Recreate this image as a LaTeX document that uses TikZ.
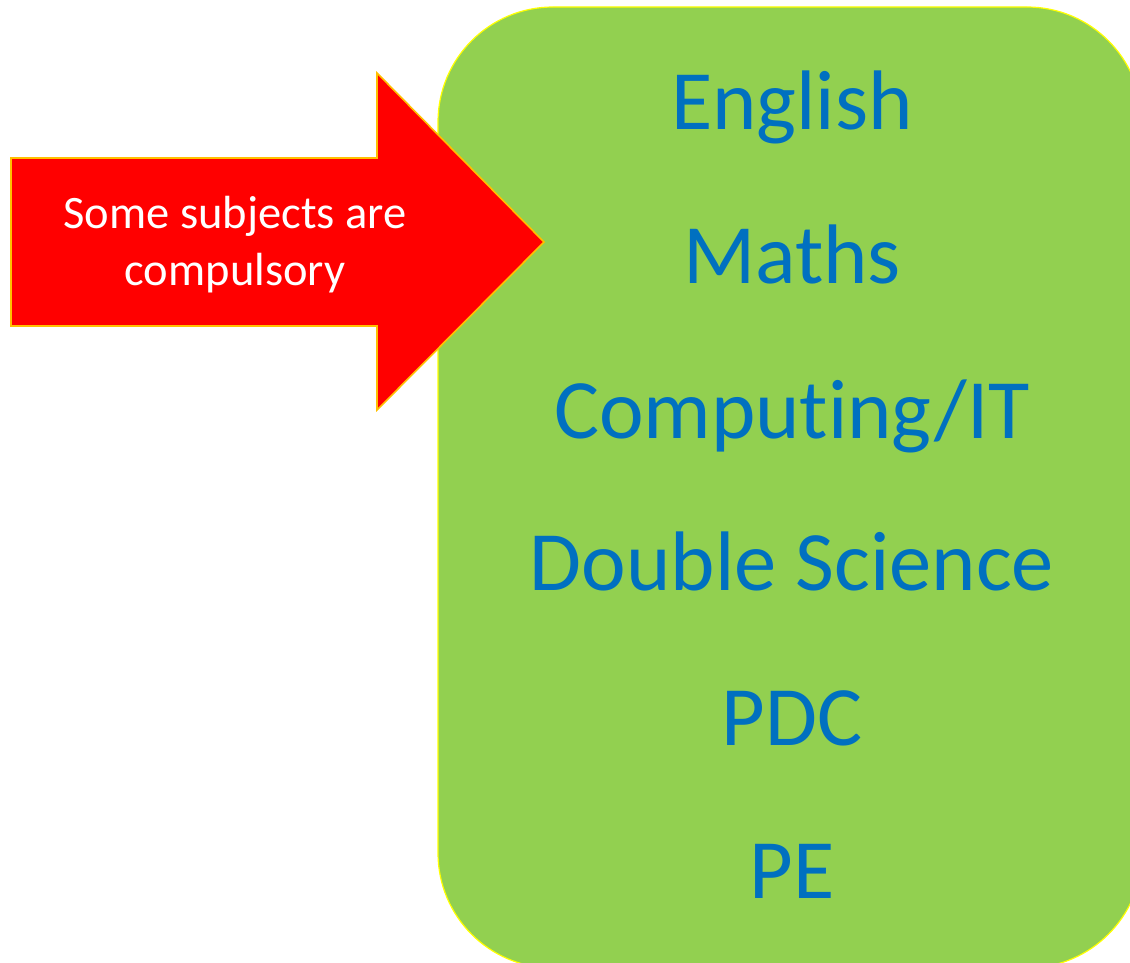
\documentclass[tikz,border=0pt]{standalone}
\usepackage{fontspec}
\setmainfont{Carlito}[Ligatures=NoCommon]
\definecolor{boxgreen}{HTML}{92D050}
\definecolor{boxedge}{HTML}{FFFF00}
\definecolor{subjblue}{HTML}{0070C0}
\definecolor{arrowred}{HTML}{FF0000}
\definecolor{arrowedge}{HTML}{FFC000}
\tikzset{
  subject/.style={text=subjblue, font=\fontsize{84.5}{100}\selectfont, anchor=base, inner sep=0pt},
  greenbox/.style={fill=boxgreen, draw=boxedge, line width=1.2pt, rounded corners=115pt},
  redarrow/.style={fill=arrowred, draw=arrowedge, line width=1.6pt, line join=miter},
  arrowtext/.style={text=white, font=\fontsize{46.5}{57}\selectfont, align=center, inner sep=0pt}
}
\begin{document}
\begin{tikzpicture}[x=1pt,y=-1pt]
\useasboundingbox (0,0) rectangle (1130,963);
\fill[white] (0,0) rectangle (1130,963);
\begin{scope}
\clip (0,0) rectangle (1130,963);
\draw[greenbox] (438,7) rectangle (1142,968);
\end{scope}
\node[subject] (english) at (792,130) {English};
\node[subject] (maths) at (792,283) {Maths};
\node[subject] (computing) at (792,438) {Computing/IT};
\node[subject] (science) at (792,590) {Double Science};
\node[subject] (pdc) at (792,745) {PDC};
\node[subject] (pe) at (792,898) {PE};
\draw[redarrow] (11,158) -- (377,158) -- (377,73) -- (544,242) -- (377,410) -- (377,326) -- (11,326) -- cycle;
\node[arrowtext] (label) at (235,245) {Some subjects are\\compulsory};
\end{tikzpicture}
\end{document}
